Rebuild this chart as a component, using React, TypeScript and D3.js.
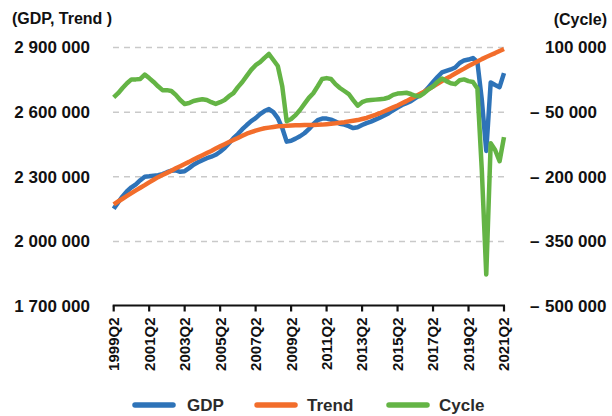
import React from "react";
import * as d3 from "d3";

// quarterly data, 1999Q2 .. 2021Q2 (levels in thousands)
const START_YEAR = 1999;
const START_Q = 2;
const TICK_LABELS = ["1999Q2", "2001Q2", "2003Q2", "2005Q2", "2007Q2", "2009Q2", "2011Q2", "2013Q2", "2015Q2", "2017Q2", "2019Q2", "2021Q2"];

const GDP = [
  2151, 2181, 2209, 2233, 2251, 2265, 2284, 2300, 2302, 2305,
  2307, 2312, 2321, 2328, 2330, 2323, 2326, 2340, 2356, 2367,
  2377, 2386, 2393, 2402, 2416, 2433, 2456, 2479, 2498, 2521,
  2540, 2558, 2572, 2591, 2605, 2614, 2600, 2572, 2526, 2463,
  2467, 2477, 2488, 2502, 2521, 2544, 2563, 2570, 2570, 2565,
  2556, 2546, 2542, 2535, 2526, 2530, 2540, 2549, 2556, 2565,
  2574, 2584, 2595, 2609, 2621, 2633, 2642, 2651, 2665, 2679,
  2693, 2716, 2740, 2763, 2784, 2791, 2798, 2807, 2828, 2840,
  2844, 2851, 2833, 2656, 2420, 2738, 2726, 2716, 2781,
];

const TREND = [
  2172, 2185, 2198, 2211, 2224, 2237, 2249, 2261, 2274, 2286,
  2298, 2308, 2318, 2328, 2339, 2349, 2359, 2369, 2380, 2390,
  2400, 2410, 2420, 2431, 2441, 2451, 2461, 2471, 2480, 2490,
  2500, 2507, 2514, 2520, 2525, 2528, 2531, 2534, 2535, 2537,
  2538, 2539, 2539, 2540, 2540, 2540, 2541, 2542, 2544, 2546,
  2548, 2551, 2553, 2557, 2560, 2563, 2568, 2573, 2580, 2587,
  2595, 2604, 2613, 2622, 2631, 2641, 2651, 2662, 2673, 2684,
  2695, 2707, 2719, 2731, 2744, 2756, 2767, 2779, 2791, 2802,
  2814, 2825, 2835, 2846, 2856, 2865, 2874, 2884, 2893,
];

const CYCLE = [
  -16, -6, 6, 17, 26, 26, 27, 37, 29, 20,
  10, 1, 1, -1, -10, -22, -31, -29, -24, -22,
  -20, -22, -27, -31, -27, -22, -13, -6, 8, 20,
  34, 48, 59, 66, 76, 85, 71, 57, 10, -71,
  -66, -57, -45, -31, -17, -6, 10, 27, 29, 27,
  15, 6, -1, -8, -22, -35, -27, -23, -22, -21,
  -20, -19, -16, -10, -7, -6, -5, -8, -12, -13,
  -6, 3, 10, 20, 28, 22, 17, 15, 24, 26,
  22, 20, 5, -185, -427, -122, -138, -164, -108,
];

const LEFT_TICKS = [1700, 2000, 2300, 2600, 2900];
const RIGHT_TICKS = [-500, -350, -200, -50, 100];

const SERIES = [
  { name: "GDP", values: GDP, axis: "left", color: "#2e73b8" },
  { name: "Trend", values: TREND, axis: "left", color: "#f26d2b" },
  { name: "Cycle", values: CYCLE, axis: "right", color: "#64b445" },
];

const FONT = "'Liberation Sans', Arial, sans-serif";

const fmt = (v) => d3.format(",")(Math.abs(v) * 1000).replace(/,/g, " ");

const App = () => {
  const ref = React.useRef(null);

  React.useEffect(() => {
    const quarters = [];
    for (let i = 0; i < GDP.length; i++) {
      const q = START_Q - 1 + i;
      quarters.push(`${START_YEAR + Math.floor(q / 4)}Q${(q % 4) + 1}`);
    }

    const svg = d3.select(ref.current);
    svg.selectAll("*").remove();

    const x = d3.scalePoint().domain(quarters).range([113.7, 504]);
    const yL = d3.scaleLinear().domain([1700, 2900]).range([306, 47.5]);
    const yR = d3.scaleLinear().domain([-500, 100]).range([306, 47.5]);

    // gridlines
    svg.append("g")
      .selectAll("line")
      .data(LEFT_TICKS.slice(1))
      .enter()
      .append("line")
      .attr("x1", 113)
      .attr("x2", 505)
      .attr("y1", (d) => yL(d))
      .attr("y2", (d) => yL(d))
      .style("stroke", "#c9c9c9")
      .style("stroke-width", 1.5)
      .style("stroke-dasharray", "6,5");

    // left labels
    svg.append("g")
      .selectAll("text")
      .data(LEFT_TICKS)
      .enter()
      .append("text")
      .attr("x", 90)
      .attr("y", (d) => yL(d))
      .attr("dy", "0.35em")
      .attr("text-anchor", "end")
      .style("font", `bold 17px ${FONT}`)
      .style("fill", "#111")
      .text((d) => fmt(d));

    // right labels
    const rl = svg.append("g")
      .selectAll("g")
      .data(RIGHT_TICKS)
      .enter()
      .append("g")
      .attr("transform", (d) => `translate(0,${yR(d)})`);
    rl.filter((d) => d < 0)
      .append("text")
      .attr("x", 530)
      .attr("dy", "0.35em")
      .style("font", `bold 17px ${FONT}`)
      .style("fill", "#111")
      .text("–");
    rl.append("text")
      .attr("x", 545)
      .attr("dy", "0.35em")
      .style("font", `bold 17px ${FONT}`)
      .style("fill", "#111")
      .text((d) => fmt(d));

    // axis titles
    svg.append("text")
      .attr("x", 12)
      .attr("y", 24)
      .style("font", `bold 16px ${FONT}`)
      .style("fill", "#111")
      .text("(GDP, Trend )");
    svg.append("text")
      .attr("x", 607)
      .attr("y", 25)
      .attr("text-anchor", "end")
      .style("font", `bold 16px ${FONT}`)
      .style("fill", "#111")
      .text("(Cycle)");

    // x axis
    const xa = svg.append("g").attr("transform", "translate(0,305.5)");
    xa.append("line")
      .attr("x1", x(quarters[0]) - 1)
      .attr("x2", x(quarters[quarters.length - 1]) + 1)
      .style("stroke", "#111")
      .style("stroke-width", 2.2);
    const tk = xa.selectAll("g.tick")
      .data(TICK_LABELS)
      .enter()
      .append("g")
      .attr("class", "tick")
      .attr("transform", (d) => `translate(${x(d)},0)`);
    tk.append("line")
      .attr("y1", 0)
      .attr("y2", 6)
      .style("stroke", "#111")
      .style("stroke-width", 2.2);
    tk.append("text")
      .attr("transform", "rotate(-90)")
      .attr("x", -12)
      .attr("dy", "0.36em")
      .attr("text-anchor", "end")
      .style("font", `bold 15px ${FONT}`)
      .style("fill", "#111")
      .text((d) => d);

    // lines
    SERIES.forEach((s) => {
      const y = s.axis === "left" ? yL : yR;
      const line = d3.line()
        .x((d, i) => x(quarters[i]))
        .y((d) => y(d));
      svg.append("path")
        .datum(s.values)
        .attr("d", line)
        .style("fill", "none")
        .style("stroke", s.color)
        .style("stroke-width", 4.5)
        .style("stroke-linejoin", "round");
    });

    // legend
    const legX = [133, 255, 387];
    const lg = svg.append("g")
      .selectAll("g")
      .data(SERIES)
      .enter()
      .append("g")
      .attr("transform", (d, i) => `translate(${legX[i]},405)`);
    lg.append("line")
      .attr("x1", 2)
      .attr("x2", 40)
      .style("stroke", (d) => d.color)
      .style("stroke-width", 5.5)
      .style("stroke-linecap", "round");
    lg.append("text")
      .attr("x", (d, i) => (i === 0 ? 54 : 52))
      .attr("dy", "0.36em")
      .style("font", `bold 17px ${FONT}`)
      .style("fill", "#2b2b2b")
      .text((d) => d.name);
  }, []);

  return (
    <div style={{ position: "absolute", left: 0, top: 0, background: "#fff" }}>
      <svg ref={ref} width={612} height={416}></svg>
    </div>
  );
};

export default App;
